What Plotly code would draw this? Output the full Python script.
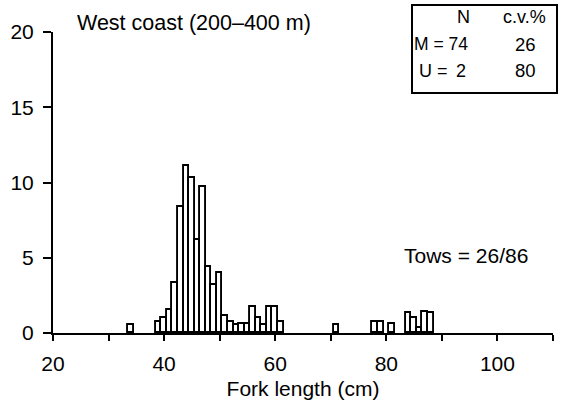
import plotly.graph_objects as go

# Length-frequency data: fork length bins (cm, 1 cm wide) and scaled frequency
lengths = [34, 39, 40, 41, 42, 43, 44, 45, 46, 47, 48, 49, 50, 51, 52, 53, 54, 55,
           56, 57, 58, 59, 60, 61, 71, 78, 79, 81, 84, 85, 86, 87, 88]
freq = [0.5, 0.7, 1.0, 1.5, 3.3, 8.4, 11.1, 10.3, 6.2, 9.7, 4.4, 3.2, 4.0, 1.1, 0.7, 0.5, 0.6, 0.6,
        1.7, 1.0, 0.5, 1.7, 1.7, 0.7, 0.5, 0.7, 0.7, 0.6, 1.3, 1.0, 0.3, 1.4, 1.3]

x_ticks = [20, 30, 40, 50, 60, 70, 80, 90, 100, 110]
x_tick_text = ["20", "", "40", "", "60", "", "80", "", "100", ""]
y_ticks = [0, 5, 10, 15, 20]

panel_title = "West coast (200\u2013400 m)"
tows_text = "Tows = 26/86"
table_header = ["N", "c.v.%"]
table_rows = [("M = 74", "", "26"), ("U =", "2", "80")]

W, H = 562, 410
L, R, T, B = 53, 9, 32, 77
PW, PH = W - L - R, H - T - B
FONT = "Liberation Sans, Arial, sans-serif"


def px(x):
    return (x - L) / PW


def py(y):
    return (H - B - y) / PH


fig = go.Figure()
fig.add_trace(go.Bar(
    x=lengths, y=freq, width=1,
    marker=dict(color="white", line=dict(color="black", width=1.9)),
    showlegend=False,
))

axis_common = dict(
    showline=True, linecolor="black", linewidth=2,
    ticks="outside", tickcolor="black", tickwidth=2,
    showgrid=False, zeroline=False,
    tickfont=dict(family=FONT, size=21, color="black"),
)

fig.update_xaxes(
    range=[20, 110], tickvals=x_ticks, ticktext=x_tick_text, ticklen=6,
    ticklabelstandoff=5,
    title=dict(text="Fork length (cm)", font=dict(family=FONT, size=21, color="black"), standoff=7),
    **axis_common,
)
fig.update_yaxes(
    range=[0, 20], tickvals=y_ticks, ticklen=8, ticklabelstandoff=5,
    **axis_common,
)

annotations = [
    dict(x=px(75), y=py(23), text=panel_title, xanchor="left", yanchor="middle", size=21.5),
    dict(x=px(402), y=py(255), text=tows_text, xanchor="left", yanchor="middle", size=21),
    dict(x=px(472), y=py(17), text=table_header[0], xanchor="right", yanchor="middle", size=18),
    dict(x=px(548), y=py(17), text=table_header[1], xanchor="right", yanchor="middle", size=18),
]
for (label, n, cv), yy in zip(table_rows, [44, 71]):
    if n:
        annotations.append(dict(x=px(417), y=py(yy), text=label, xanchor="left", yanchor="middle", size=18))
        annotations.append(dict(x=px(468), y=py(yy), text=n, xanchor="right", yanchor="middle", size=18))
    else:
        annotations.append(dict(x=px(470), y=py(yy), text=label, xanchor="right", yanchor="middle", size=17.5))
    annotations.append(dict(x=px(538), y=py(yy), text=cv, xanchor="right", yanchor="middle", size=18.5))
for a in annotations:
    size = a.pop("size")
    a.update(xref="paper", yref="paper", showarrow=False,
             font=dict(family=FONT, size=size, color="black"))
fig.update_layout(annotations=annotations)

fig.add_shape(type="rect", xref="paper", yref="paper",
              x0=px(412), x1=px(557), y0=py(93), y1=py(5),
              line=dict(color="black", width=2))

fig.update_layout(
    width=W, height=H,
    margin=dict(l=L, r=R, t=T, b=B),
    paper_bgcolor="white", plot_bgcolor="white",
    bargap=0,
    font=dict(family=FONT, color="black"),
)

fig.write_html("out.html")
